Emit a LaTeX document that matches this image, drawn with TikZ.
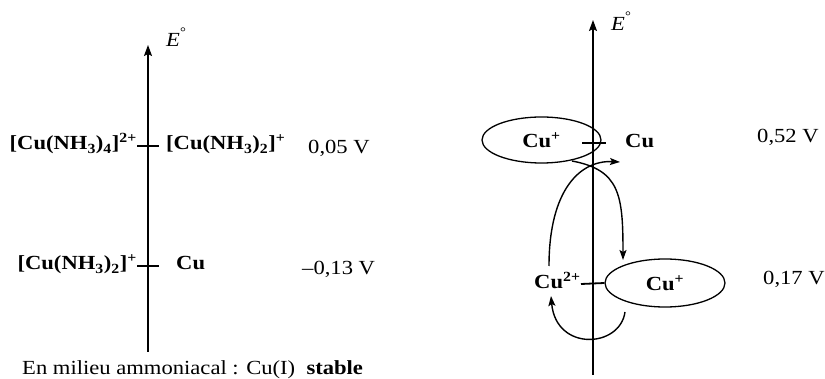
\documentclass[tikz,border=0pt]{standalone}
\usepackage{fontspec}
\setmainfont[FakeStretch=1.13]{Liberation Serif}
\usetikzlibrary{arrows.meta,shapes.geometric}
\newcommand{\degsign}{{\fontsize{13}{13}\selectfont\raisebox{10pt}{°}}}
\begin{document}
\begin{tikzpicture}[x=1pt,y=-1pt,
  lbl/.style={inner sep=0pt,font=\fontsize{20}{24}\selectfont},
  spc/.style={inner sep=0pt,font=\fontsize{20}{24}\selectfont\bfseries},
  axisline/.style={line width=1.4pt,-{Stealth[length=11pt,width=8pt,inset=2pt]}},
  tickline/.style={line width=1.8pt},
  curvearrow/.style={line width=1.4pt,-{Stealth[length=10pt,width=7pt,inset=2pt]}},
  oval/.style={draw,ellipse,line width=1.3pt,inner sep=0pt,font=\fontsize{20}{24}\selectfont\bfseries}
]
\useasboundingbox (0,0) rectangle (825,379);

% ---------- left diagram ----------
\coordinate (la0) at (148,352);
\coordinate (la1) at (148,45);
\draw[axisline] (la0) -- (la1);
\node[lbl,anchor=base west] (lE) at (166,46.5) {\textit{E}\degsign};

\coordinate (lt1a) at (137,146);
\coordinate (lt1b) at (159,146);
\draw[tickline] (lt1a) -- (lt1b);
\coordinate (lt2a) at (137,266);
\coordinate (lt2b) at (159,266);
\draw[tickline] (lt2a) -- (lt2b);

\node[spc,anchor=base east] (a1) at (137,150) {[Cu(NH\textsubscript{3})\textsubscript{4}]\textsuperscript{2+}};
\node[spc,anchor=base west] (b1) at (166,150) {[Cu(NH\textsubscript{3})\textsubscript{2}]\textsuperscript{+}};
\node[lbl,anchor=base west] (v1) at (308,154) {0,05 V};

\node[spc,anchor=base east] (a2) at (137,270) {[Cu(NH\textsubscript{3})\textsubscript{2}]\textsuperscript{+}};
\node[spc,anchor=base west] (b2) at (176,270) {Cu};
\node[lbl,anchor=base west] (v2) at (302,275) {–0,13 V};

\node[lbl,anchor=base west] (note) at (22,374) {En milieu ammoniacal : Cu(I)\ \ \textbf{stable}};

% ---------- right diagram ----------
\coordinate (ra0) at (593,375);
\coordinate (ra1) at (593,20);
\draw[axisline] (ra0) -- (ra1);
\node[lbl,anchor=base west] (rE) at (611,31) {\textit{E}\degsign};

\node[oval,minimum width=119pt,minimum height=46pt] (e1) at (541.5,140) {Cu\textsuperscript{+}};
\coordinate (rt1a) at (582,143);
\coordinate (rt1b) at (606,143);
\draw[tickline] (rt1a) -- (rt1b);
\node[spc,anchor=base west] (cu) at (625,148) {Cu};
\node[lbl,anchor=base west] (v3) at (757,143) {0,52 V};

\node[oval,minimum width=120pt,minimum height=48pt] (e2) at (665,283) {Cu\textsuperscript{+}};
\coordinate (rt2a) at (581,284);
\draw[tickline] (rt2a) -- (e2.west);
\node[spc,anchor=base west] (cu2) at (534,289) {Cu\textsuperscript{2+}};
\node[lbl,anchor=base west] (v4) at (763,285) {0,17 V};

% curved arrows
\coordinate (cA0) at (572,161);
\coordinate (cA1) at (623,260);
\draw[curvearrow] (cA0) .. controls (620,170) and (623,195) .. (cA1);
\coordinate (cB0) at (549,266);
\coordinate (cB1) at (620,162);
\draw[curvearrow] (cB0) .. controls (549,190) and (580,160) .. (cB1);
\coordinate (cC0) at (625,312);
\coordinate (cC1) at (551,296);
\draw[curvearrow] (cC0) .. controls (620,348) and (556,352) .. (cC1);
\end{tikzpicture}
\end{document}
